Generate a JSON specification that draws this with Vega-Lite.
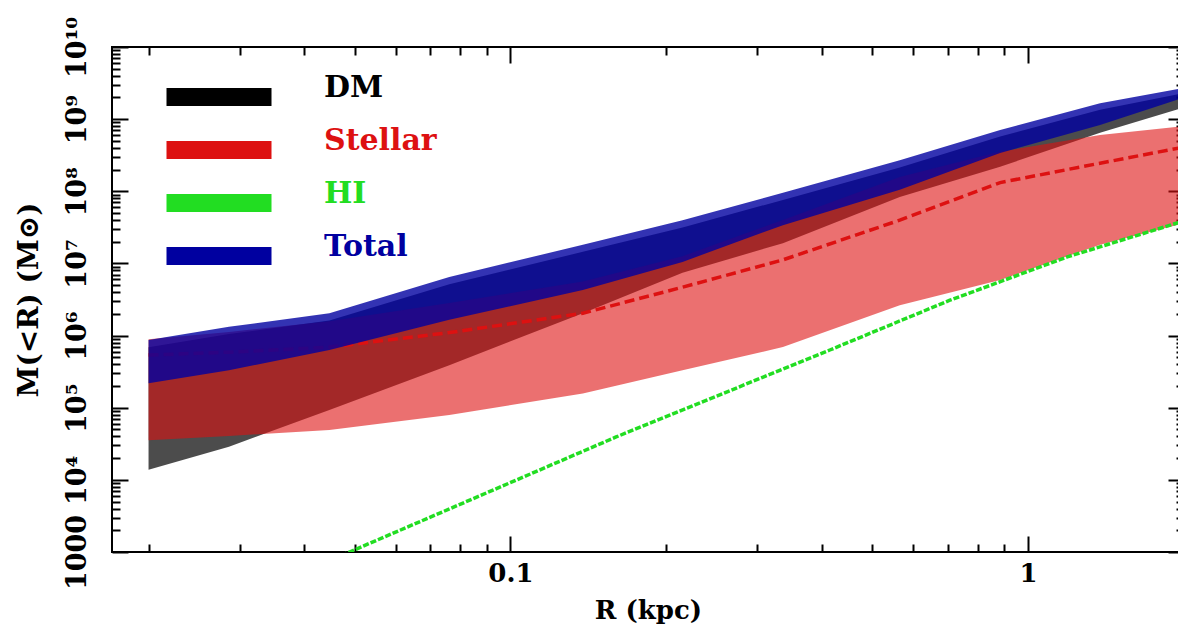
{
  "$schema": "https://vega.github.io/schema/vega-lite/v6.json",
  "width": 1072,
  "height": 505,
  "autosize": {"type": "none"},
  "padding": {"left": 112, "top": 47, "right": 0, "bottom": 81},
  "background": "white",
  "config": {"view": {"stroke": "black", "strokeWidth": 2}, "font": "DejaVu Serif"},
  "datasets": {
    "bands": [
      {"R": 0.020, "dm_lo": 13800, "dm_hi": 690000, "st_lo": 35500, "st_mid": 537000, "st_hi": 891000, "tot_lo": 219000, "tot_hi": 870000},
      {"R": 0.0286, "dm_lo": 28800, "dm_hi": 1050000, "st_lo": 40700, "st_mid": 589000, "st_hi": 1120000, "tot_lo": 331000, "tot_hi": 1320000},
      {"R": 0.0447, "dm_lo": 93300, "dm_hi": 1620000, "st_lo": 49000, "st_mid": 692000, "st_hi": 1580000, "tot_lo": 631000, "tot_hi": 2040000},
      {"R": 0.0762, "dm_lo": 389000, "dm_hi": 5130000, "st_lo": 79400, "st_mid": 1100000, "st_hi": 2820000, "tot_lo": 1660000, "tot_hi": 6460000},
      {"R": 0.138, "dm_lo": 2040000, "dm_hi": 14500000, "st_lo": 158000, "st_mid": 2040000, "st_hi": 5620000, "tot_lo": 4270000, "tot_hi": 18200000},
      {"R": 0.215, "dm_lo": 7410000, "dm_hi": 31600000, "st_lo": 331000, "st_mid": 4680000, "st_hi": 12600000, "tot_lo": 10500000, "tot_hi": 39800000},
      {"R": 0.336, "dm_lo": 19100000, "dm_hi": 75900000, "st_lo": 692000, "st_mid": 11200000, "st_hi": 40000000, "tot_lo": 33900000, "tot_hi": 95500000},
      {"R": 0.565, "dm_lo": 83200000, "dm_hi": 214000000, "st_lo": 2630000, "st_mid": 39800000, "st_hi": 158000000, "tot_lo": 105000000, "tot_hi": 269000000},
      {"R": 0.883, "dm_lo": 219000000, "dm_hi": 575000000, "st_lo": 5890000, "st_mid": 132000000, "st_hi": 355000000, "tot_lo": 339000000, "tot_hi": 708000000},
      {"R": 1.377, "dm_lo": 646000000, "dm_hi": 1350000000, "st_lo": 18200000, "st_mid": 245000000, "st_hi": 603000000, "tot_lo": 832000000, "tot_hi": 1660000000},
      {"R": 2.0, "dm_lo": 1450000000, "dm_hi": 2300000000, "st_lo": 36000000, "st_mid": 410000000, "st_hi": 800000000, "tot_lo": 2000000000, "tot_hi": 2700000000}
    ],
    "hi": [
      {"R": 0.040, "M": 540},
      {"R": 0.0489, "M": 1000},
      {"R": 0.160, "M": 39300},
      {"R": 0.414, "M": 631000},
      {"R": 0.706, "M": 3090000},
      {"R": 1.19, "M": 12300000},
      {"R": 1.94, "M": 36300000},
      {"R": 2.0, "M": 39000000}
    ]
  },
  "layer": [
    {
      "data": {"name": "bands"},
      "mark": {"type": "area", "fillOpacity": 0.7, "clip": true},
      "encoding": {
        "x": {
          "field": "R", "type": "quantitative",
          "scale": {"type": "log", "domain": [0.017, 2], "nice": false, "zero": false},
          "axis": {
            "orient": "bottom",
            "values": [0.02, 0.03, 0.04, 0.05, 0.06, 0.07, 0.08, 0.09, 0.1, 0.2, 0.3, 0.4, 0.5, 0.6, 0.7, 0.8, 0.9, 1, 2],
            "domain": false, "grid": false,
            "tickColor": "black", "tickWidth": 2,
            "tickSize": {"condition": {"test": "abs(log(datum.value)/LN10 - round(log(datum.value)/LN10)) < 0.001", "value": -16}, "value": -8},
            "labelExpr": "abs(datum.value - 0.1) < 1e-9 ? '0.1' : (abs(datum.value - 1) < 1e-9 ? '1' : '')",
            "labelFont": "DejaVu Serif", "labelFontWeight": "bold", "labelFontSize": 26, "labelColor": "black",
            "labelPadding": 24, "labelOverlap": false, "labelFlush": false,
            "title": "R (kpc)", "titleFont": "DejaVu Serif", "titleFontWeight": "bold", "titleFontSize": 26, "titleColor": "black", "titlePadding": 3
          }
        },
        "y": {
          "field": "dm_lo", "type": "quantitative",
          "scale": {"type": "log", "domain": [1000, 10000000000], "nice": false, "zero": false},
          "axis": {
            "orient": "left",
            "values": [1000, 2000, 3000, 4000, 5000, 6000, 7000, 8000, 9000, 10000, 20000, 30000, 40000, 50000, 60000, 70000, 80000, 90000, 100000, 200000, 300000, 400000, 500000, 600000, 700000, 800000, 900000, 1000000, 2000000, 3000000, 4000000, 5000000, 6000000, 7000000, 8000000, 9000000, 10000000, 20000000, 30000000, 40000000, 50000000, 60000000, 70000000, 80000000, 90000000, 100000000, 200000000, 300000000, 400000000, 500000000, 600000000, 700000000, 800000000, 900000000, 1000000000, 2000000000, 3000000000, 4000000000, 5000000000, 6000000000, 7000000000, 8000000000, 9000000000, 10000000000],
            "domain": false, "grid": false,
            "tickColor": "black", "tickWidth": 2,
            "tickSize": {"condition": {"test": "abs(log(datum.value)/LN10 - round(log(datum.value)/LN10)) < 0.001", "value": -16}, "value": -8},
            "labelExpr": "abs(log(datum.value)/LN10 - round(log(datum.value)/LN10)) > 0.001 ? '' : (datum.value < 2000 ? '1000' : '10' + ['','','','','⁴','⁵','⁶','⁷','⁸','⁹','¹⁰'][round(log(datum.value)/LN10)])",
            "labelAngle": -90,
            "labelFont": "DejaVu Serif", "labelFontWeight": "bold", "labelFontSize": 27, "labelColor": "black",
            "labelPadding": 37, "labelOverlap": false, "labelFlush": false,
            "title": "M(<R) (M⊙)", "titleFont": "DejaVu Serif", "titleFontWeight": "bold", "titleFontSize": 28, "titleColor": "black", "titlePadding": 12
          }
        },
        "y2": {"field": "dm_hi"},
        "color": {
          "datum": "DM", "type": "nominal",
          "scale": {"domain": ["DM", "Stellar", "HI", "Total"], "range": ["#000000", "#dd1111", "#22dd22", "#0000a0"]},
          "legend": {
            "orient": "none", "legendX": 92, "legendY": 35, "title": null, "direction": "vertical",
            "symbolType": "M-7,-1.2L7,-1.2L7,1.2L-7,1.2Z", "symbolSize": 225, "symbolOpacity": 1, "symbolStrokeWidth": 0,
            "labelFont": "DejaVu Serif", "labelFontWeight": "bold", "labelFontSize": 30, "labelOffset": 90, "labelLimit": 0,
            "rowPadding": 20, "padding": 0,
            "encode": {
              "symbols": {"update": {"fill": {"scale": "color", "field": "value"}, "stroke": {"value": "transparent"}, "opacity": {"value": 1}, "fillOpacity": {"value": 1}}},
              "labels": {"update": {"fill": {"scale": "color", "field": "value"}, "dy": {"value": -9}}}
            }
          }
        }
      }
    },
    {
      "data": {"name": "bands"},
      "mark": {"type": "area", "fillOpacity": 0.6, "clip": true},
      "encoding": {
        "x": {"field": "R", "type": "quantitative", "axis": null},
        "y": {"field": "st_lo", "type": "quantitative", "axis": null},
        "y2": {"field": "st_hi"},
        "color": {"datum": "Stellar", "type": "nominal"}
      }
    },
    {
      "data": {"name": "bands"},
      "mark": {"type": "line", "strokeWidth": 3.5, "strokeDash": [10, 5], "clip": true},
      "encoding": {
        "x": {"field": "R", "type": "quantitative", "axis": null},
        "y": {"field": "st_mid", "type": "quantitative", "axis": null},
        "color": {"datum": "Stellar", "type": "nominal"}
      }
    },
    {
      "data": {"name": "hi"},
      "mark": {"type": "line", "strokeWidth": 3.5, "strokeDash": [6, 2], "clip": true},
      "encoding": {
        "x": {"field": "R", "type": "quantitative", "axis": null},
        "y": {"field": "M", "type": "quantitative", "axis": null},
        "color": {"datum": "HI", "type": "nominal"}
      }
    },
    {
      "data": {"name": "bands"},
      "mark": {"type": "area", "fillOpacity": 0.8, "clip": true},
      "encoding": {
        "x": {"field": "R", "type": "quantitative", "axis": null},
        "y": {"field": "tot_lo", "type": "quantitative", "axis": null},
        "y2": {"field": "tot_hi"},
        "color": {"datum": "Total", "type": "nominal"}
      }
    },
    {
      "data": {"name": "bands"},
      "mark": {"type": "point", "opacity": 0},
      "encoding": {
        "x": {
          "field": "R", "type": "quantitative",
          "axis": {
            "orient": "top",
            "values": [0.02, 0.03, 0.04, 0.05, 0.06, 0.07, 0.08, 0.09, 0.1, 0.2, 0.3, 0.4, 0.5, 0.6, 0.7, 0.8, 0.9, 1, 2],
            "domain": false, "grid": false, "labels": false, "title": null,
            "tickColor": "black", "tickWidth": 2,
            "tickSize": {"condition": {"test": "abs(log(datum.value)/LN10 - round(log(datum.value)/LN10)) < 0.001", "value": -16}, "value": -8}
          }
        },
        "y": {
          "field": "tot_hi", "type": "quantitative",
          "axis": {
            "orient": "right",
            "values": [1000, 2000, 3000, 4000, 5000, 6000, 7000, 8000, 9000, 10000, 20000, 30000, 40000, 50000, 60000, 70000, 80000, 90000, 100000, 200000, 300000, 400000, 500000, 600000, 700000, 800000, 900000, 1000000, 2000000, 3000000, 4000000, 5000000, 6000000, 7000000, 8000000, 9000000, 10000000, 20000000, 30000000, 40000000, 50000000, 60000000, 70000000, 80000000, 90000000, 100000000, 200000000, 300000000, 400000000, 500000000, 600000000, 700000000, 800000000, 900000000, 1000000000, 2000000000, 3000000000, 4000000000, 5000000000, 6000000000, 7000000000, 8000000000, 9000000000, 10000000000],
            "domain": false, "grid": false, "labels": false, "title": null,
            "tickColor": "black", "tickWidth": 2,
            "tickSize": {"condition": {"test": "abs(log(datum.value)/LN10 - round(log(datum.value)/LN10)) < 0.001", "value": -16}, "value": -8}
          }
        }
      }
    }
  ],
  "resolve": {"axis": {"x": "independent", "y": "independent"}}
}
